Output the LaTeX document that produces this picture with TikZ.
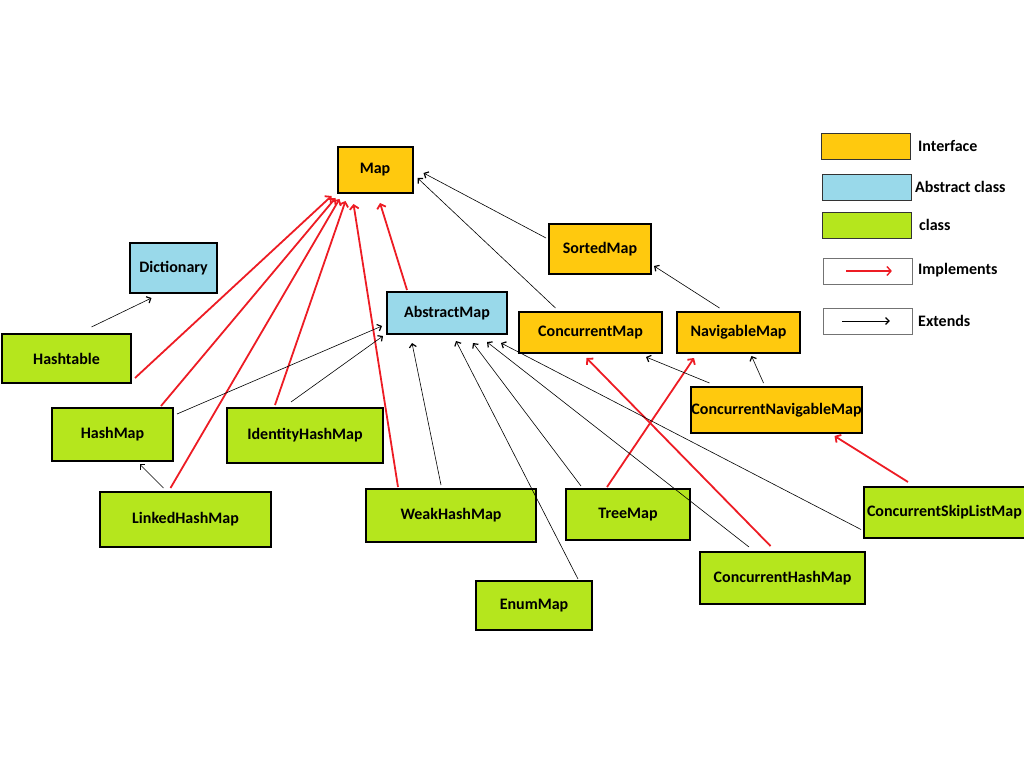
\documentclass[tikz,border=0pt]{standalone}
\usepackage{fontspec}
\setmainfont{Carlito}
\usetikzlibrary{arrows.meta}
\definecolor{ifaceorange}{HTML}{FFC90E}
\definecolor{abstractblue}{HTML}{99D9EA}
\definecolor{classgreen}{HTML}{B5E61D}
\definecolor{implred}{HTML}{ED1C24}
\tikzset{
    map-box/.style = {draw=black, line width=2pt, rectangle, inner sep=0pt, font=\fontsize{16}{18}\selectfont\bfseries},
    iface-box/.style = {map-box, fill=ifaceorange},
    abstract-box/.style = {map-box, fill=abstractblue},
    class-box/.style = {map-box, fill=classgreen},
    legend-box/.style = {draw=black!80, line width=0.8pt, rectangle, minimum width=89pt, minimum height=26pt},
    legend-text/.style = {anchor=west, inner sep=0pt, font=\fontsize{16}{18}\selectfont\bfseries},
    impl-arrow/.style = {draw=implred, line width=1.8pt, -{Straight Barb[length=4pt,width=9pt]}},
    ext-arrow/.style = {draw=black, line width=0.6pt, -{Straight Barb[length=3.5pt,width=7pt,line width=1.2pt]}},
}
\begin{document}
\begin{tikzpicture}[x=1pt, y=-1pt]
\useasboundingbox (0,0) rectangle (1024,767);
% interfaces
\node[iface-box, minimum width=75pt, minimum height=46pt] (map) at (375,170) {Map};
\node[iface-box, minimum width=102pt, minimum height=50pt] (sortedmap) at (600,249) {SortedMap};
\node[iface-box, minimum width=143pt, minimum height=41pt] (concmap) at (590.5,332.5) {ConcurrentMap};
\node[iface-box, minimum width=123pt, minimum height=41pt] (navmap) at (738.5,332.5) {NavigableMap};
\node[iface-box, minimum width=169pt, minimum height=46pt] (concnavmap) at (776.5,410) {ConcurrentNavigableMap};
% abstract classes
\node[abstract-box, minimum width=87pt, minimum height=50pt] (dictionary) at (173.5,268) {Dictionary};
\node[abstract-box, minimum width=120pt, minimum height=42pt] (abstractmap) at (447,313) {AbstractMap};
% classes
\node[class-box, minimum width=129pt, minimum height=49pt] (hashtable) at (66.5,358.5) {Hashtable};
\node[class-box, minimum width=121pt, minimum height=53pt] (hashmap) at (112.5,434.5) {HashMap};
\node[class-box, minimum width=156pt, minimum height=55pt] (identitymap) at (305,435.5) {IdentityHashMap};
\node[class-box, minimum width=171pt, minimum height=55pt] (linkedmap) at (185.5,519.5) {LinkedHashMap};
\node[class-box, minimum width=170pt, minimum height=53pt] (weakmap) at (451,515.5) {WeakHashMap};
\node[class-box, minimum width=124pt, minimum height=51pt] (treemap) at (628,514.5) {TreeMap};
\node[class-box, minimum width=116pt, minimum height=49pt] (enummap) at (534,605.5) {EnumMap};
\node[class-box, minimum width=165pt, minimum height=52pt] (conchashmap) at (782.5,578) {ConcurrentHashMap};
\node[class-box, minimum width=168pt, minimum height=51pt, text width=162pt, align=left] (skiplistmap) at (948,512.5) {ConcurrentSkipListMap};

% implements
\draw[impl-arrow] ([xshift=3pt,yshift=6pt]hashtable.south east) -- ([xshift=-5pt,yshift=-2pt]map.south west);
\draw[impl-arrow] ([xshift=-13pt,yshift=1pt]hashmap.north east) -- ([xshift=-1pt,yshift=-4pt]map.south west);
\draw[impl-arrow] ([xshift=-15pt,yshift=3pt]linkedmap.north) -- ([xshift=3pt,yshift=-5pt]map.south west);
\draw[impl-arrow] ([xshift=-30pt,yshift=2pt]identitymap.north) -- ([xshift=9pt,yshift=-7pt]map.south west);
\draw[impl-arrow] ([xshift=33pt,yshift=1pt]weakmap.north west) -- ([xshift=17pt,yshift=-10pt]map.south west);
\draw[impl-arrow] ([xshift=21pt,yshift=1pt]abstractmap.north west) -- ([xshift=5pt,yshift=-9pt]map.south);
\draw[impl-arrow] ([xshift=-21pt,yshift=1pt]treemap.north) -- ([xshift=18pt,yshift=-4pt]navmap.south west);
\draw[impl-arrow] ([xshift=-12pt,yshift=5pt]conchashmap.north) -- ([xshift=-4pt,yshift=-4pt]concmap.south);
\draw[impl-arrow] ([xshift=-40pt,yshift=4pt]skiplistmap.north) -- ([xshift=58pt,yshift=-2pt]concnavmap.south);

% extends
\draw[ext-arrow] ([xshift=25pt,yshift=6pt]hashtable.north) -- ([xshift=-22pt,yshift=-4pt]dictionary.south);
\draw[ext-arrow] ([xshift=3pt,yshift=-7pt]hashmap.north east) -- ([xshift=-4pt,yshift=-13pt]abstractmap.west);
\draw[ext-arrow] ([xshift=-14pt,yshift=5pt]identitymap.north) -- ([xshift=-3pt,yshift=-1pt]abstractmap.south west);
\draw[ext-arrow] ([xshift=-22pt,yshift=3pt]linkedmap.north) -- ([xshift=27pt,yshift=-2pt]hashmap.south);
\draw[ext-arrow] ([xshift=-10pt,yshift=3pt]weakmap.north) -- ([xshift=-35pt,yshift=-8pt]abstractmap.south);
\draw[ext-arrow] ([xshift=44pt,yshift=1pt]enummap.north) -- ([xshift=9pt,yshift=-6pt]abstractmap.south);
\draw[ext-arrow] ([xshift=16pt,yshift=2pt]treemap.north west) -- ([xshift=26pt,yshift=-8pt]abstractmap.south);
\draw[ext-arrow] ([xshift=50pt,yshift=4pt]conchashmap.north west) -- ([xshift=40pt,yshift=-7pt]abstractmap.south);
\draw[ext-arrow] ([xshift=-2pt,yshift=-17pt]skiplistmap.west) -- ([xshift=-7pt,yshift=-8pt]abstractmap.south east);
\draw[ext-arrow] ([xshift=-35pt,yshift=3pt]concmap.north) -- ([xshift=4pt,yshift=-8pt]map.east);
\draw[ext-arrow] ([xshift=-2pt,yshift=11pt]sortedmap.west) -- ([xshift=10pt,yshift=-3pt]map.east);
\draw[ext-arrow] ([xshift=-19pt,yshift=3pt]navmap.north) -- ([xshift=2pt,yshift=9pt]sortedmap.south east);
\draw[ext-arrow] ([xshift=19pt,yshift=3pt]concnavmap.north west) -- ([xshift=-17pt,yshift=-3pt]concmap.south east);
\draw[ext-arrow] ([xshift=-13pt,yshift=3pt]concnavmap.north) -- ([xshift=13pt,yshift=-2pt]navmap.south);

% legend
\node[legend-box, fill=ifaceorange] (leg-iface) at (865.5,146) {};
\node[legend-box, fill=abstractblue] (leg-abstract) at (866.5,187.5) {};
\node[legend-box, fill=classgreen] (leg-class) at (866.5,225.5) {};
\node[legend-box, draw=black!55, fill=white] (leg-impl) at (868,271) {};
\node[legend-box, draw=black!55, fill=white] (leg-ext) at (868,321) {};
\node[legend-text] at (918,146) {Interface};
\node[legend-text] at (915,187) {Abstract class};
\node[legend-text] at (919,225) {class};
\node[legend-text] at (918,270) {Implements};
\node[legend-text] at (918,321) {Extends};
\draw[impl-arrow, line width=1.4pt] ([xshift=23pt]leg-impl.west) -- ([xshift=-21pt]leg-impl.east);
\draw[ext-arrow, line width=0.9pt] ([xshift=19pt]leg-ext.west) -- ([xshift=-23pt]leg-ext.east);
\end{tikzpicture}
\end{document}
